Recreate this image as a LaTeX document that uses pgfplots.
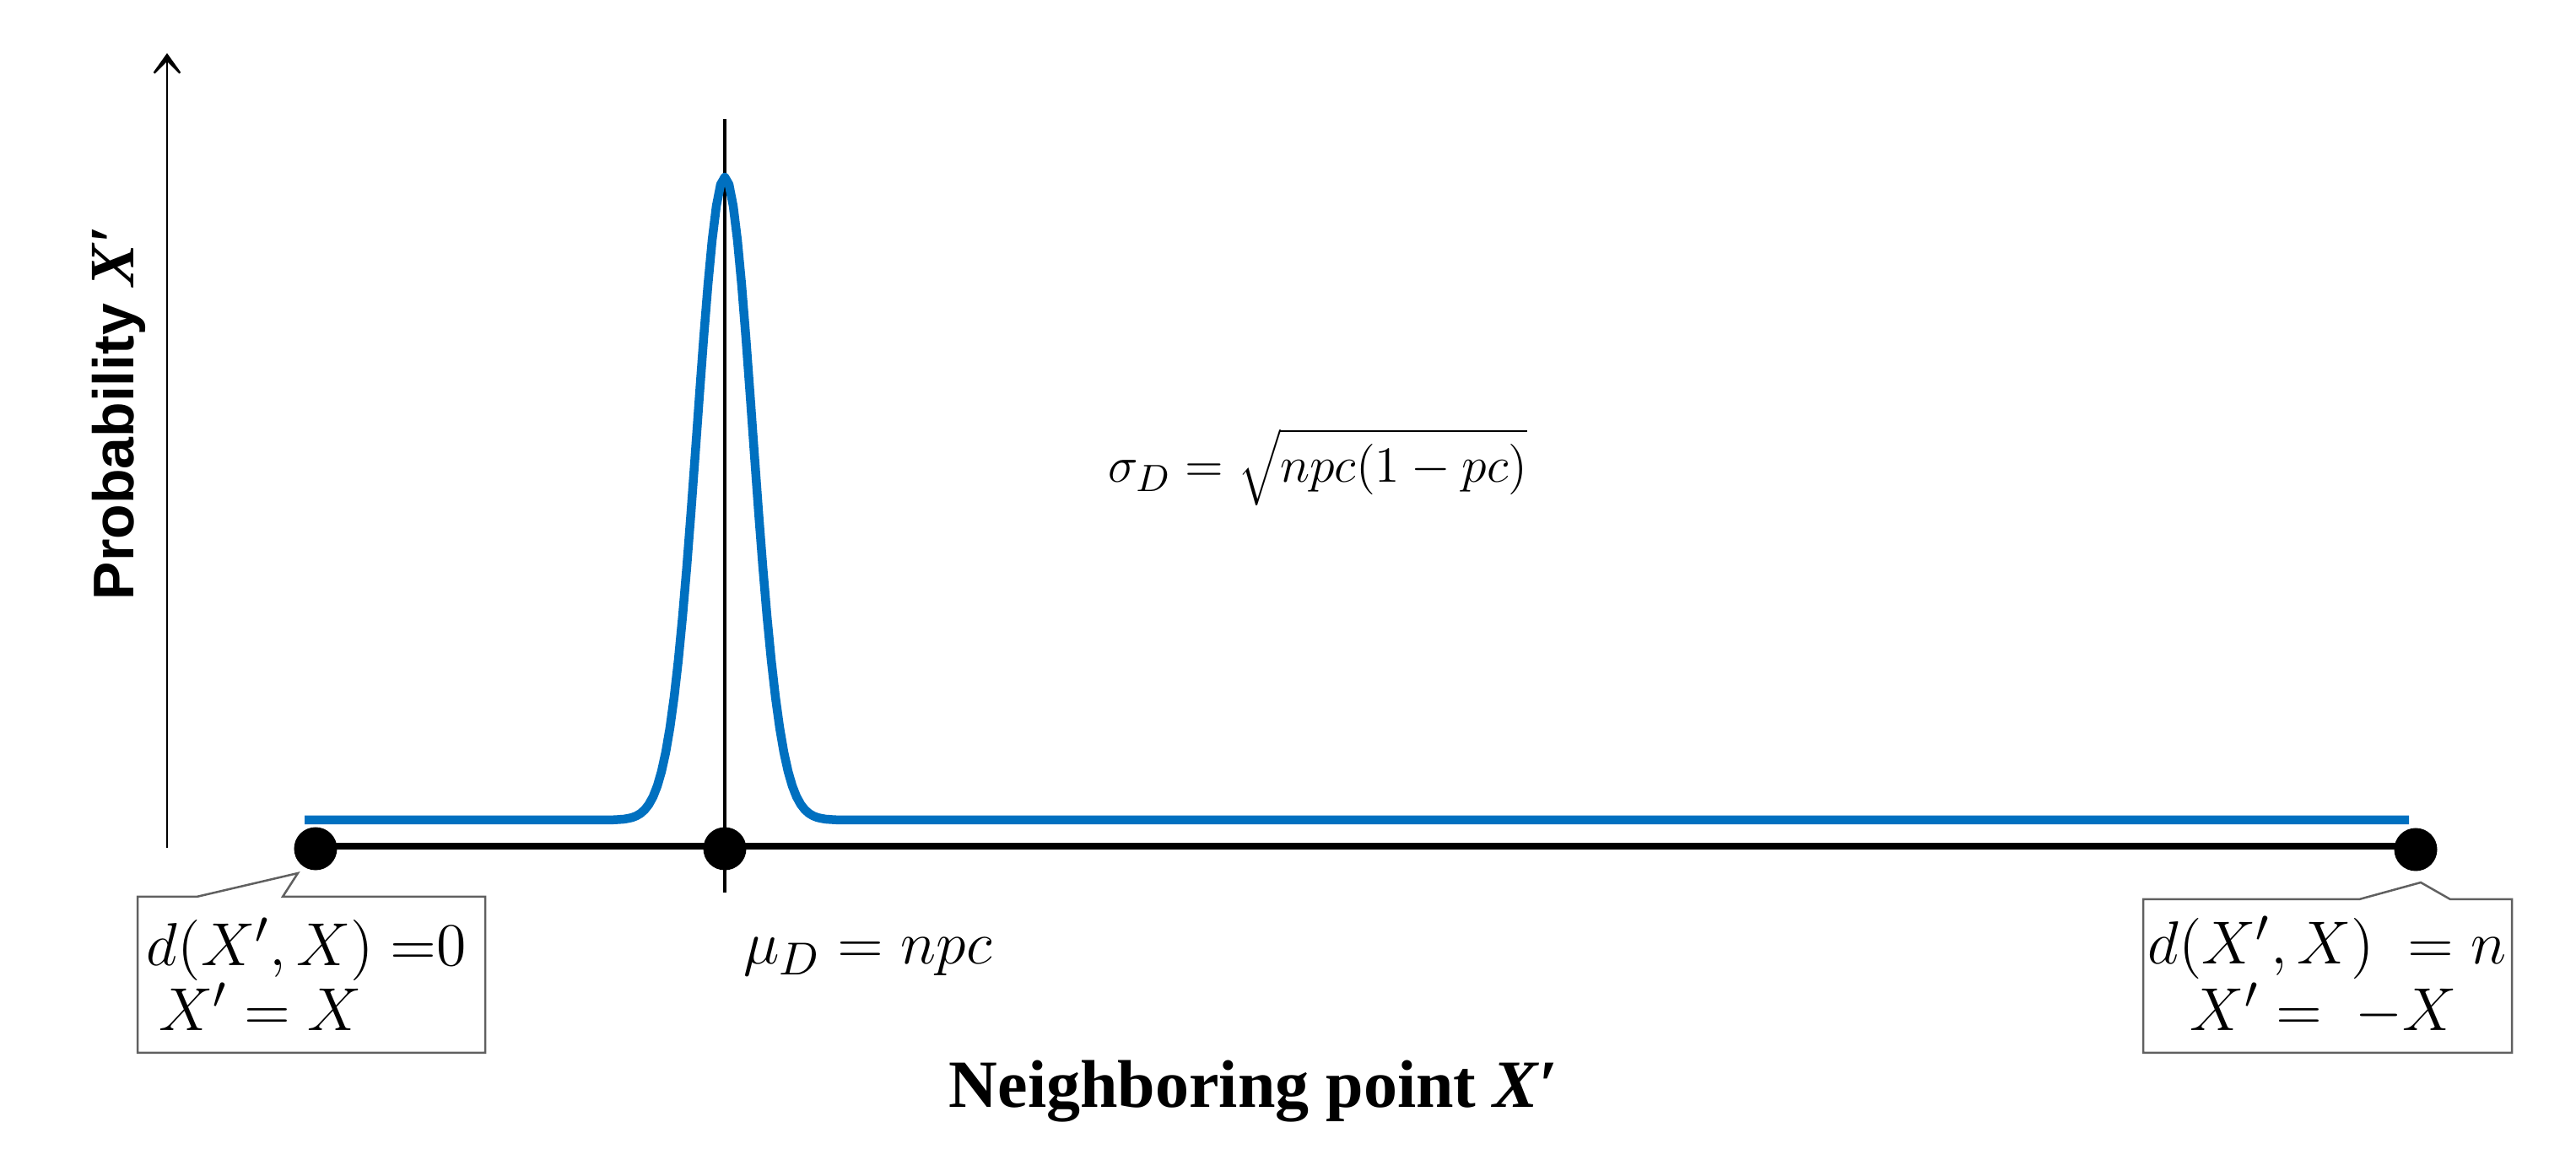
\documentclass[border=0pt]{standalone}
\usepackage{fontspec}
\setmainfont{Liberation Serif}
\newfontfamily\sansfam{Liberation Sans}
\usepackage{pgfplots}
\pgfplotsset{compat=1.18}
\usetikzlibrary{arrows.meta}
\definecolor{cblue}{HTML}{0070C0}
\definecolor{boxgray}{HTML}{606060}

\begin{document}
\begin{tikzpicture}
\useasboundingbox (0,0) rectangle (610.6pt,275pt);
\begin{axis}[at={(0,0)}, anchor=south west,
  width=610.6pt, height=275pt, scale only axis,
  xmin=0, xmax=3053, ymin=0, ymax=1375, y dir=reverse,
  axis lines=none, clip=false]

% y axis arrow
\draw[line width=0.55pt, -{Stealth[length=7pt,width=10pt,inset=5pt]}]
  (axis cs:198,1005) -- (axis cs:198,63);

% black horizontal line
\addplot[black, line width=1.6pt] coordinates {(374,1003) (2862,1003)};
% vertical line at the mean
\addplot[black, line width=0.8pt] coordinates {(859,141) (859,1058)};

% probability curve
\addplot[cblue, line width=2.1pt, line join=round] coordinates {
(361,972) (700,972) (719,972) (729,971.7) (739,971.0) (744,970.2) (749,969.1) (754,967.2)
(759,964.3) (764,959.9) (769,953.5) (774,944.4) (779,931.7) (784,914.4)
(789,891.7) (794,862.5) (799,826.1) (804,782.0) (809,730.2) (814,671.3)
(819,606.5) (824,537.8) (829,467.9) (834,400.1) (839,337.9) (844,284.8)
(849,244.2) (854,218.7) (859,210)
(864,218.7) (869,244.2) (874,284.8) (879,337.9) (884,400.1) (889,467.9)
(894,537.8) (899,606.5) (904,671.3) (909,730.2) (914,782.0) (919,826.1)
(924,862.5) (929,891.7) (934,914.4) (939,931.7) (944,944.4) (949,953.5)
(954,959.9) (959,964.3) (964,967.2) (969,969.1) (974,970.2) (979,971.0)
(989,971.7) (999,972) (2855,972)
};

% dots
\addplot[only marks, mark=*, mark size=4.9pt, black] coordinates {(374,1006) (859,1006) (2863,1007)};

% callout boxes
\draw[boxgray, line width=0.5pt, fill=white]
  (axis cs:163,1063) -- (axis cs:233,1063) -- (axis cs:353,1035) -- (axis cs:335,1063)
  -- (axis cs:575,1063) -- (axis cs:575,1248) -- (axis cs:163,1248) -- cycle;
\draw[boxgray, line width=0.5pt, fill=white]
  (axis cs:2540,1066) -- (axis cs:2796,1066) -- (axis cs:2869,1046) -- (axis cs:2904,1066)
  -- (axis cs:2977,1066) -- (axis cs:2977,1248) -- (axis cs:2540,1248) -- cycle;

% box texts
\node[anchor=base west, inner sep=0pt, font=\fontsize{15.5}{18}\selectfont] at (axis cs:173,1145) {$d(X',X)\ {=}0$};
\node[anchor=base west, inner sep=0pt, font=\fontsize{15.5}{18}\selectfont] at (axis cs:187,1222) {$X' = X$};
\node[anchor=base, inner sep=0pt, font=\fontsize{15.5}{18}\selectfont] at (axis cs:2758,1143) {$d(X',X)\ = n$};
\node[anchor=base, inner sep=0pt, font=\fontsize{15.5}{18}\selectfont] at (axis cs:2754,1222) {$X' = \ -X$};

% mean and sd formulas
\node[anchor=base west, inner sep=0pt, font=\fontsize{15.3}{18}\selectfont] at (axis cs:880,1143) {$\mu_D = npc$};
\node[anchor=base west, inner sep=0pt, font=\fontsize{12.8}{15}\selectfont] at (axis cs:1312,572) {$\sigma_D = \sqrt{npc(1-pc)}$};

% axis labels
\node[anchor=base, inner sep=0pt, font=\fontsize{16}{19}\selectfont\bfseries] at (axis cs:1486,1313) {Neighboring point \textit{X}′};
\node[anchor=base, rotate=90, inner sep=0pt] at (axis cs:158,490)
  {{\sansfam\bfseries\fontsize{13.6}{16}\selectfont Probability}\hspace{0.4em}{\fontsize{15}{17}\selectfont\bfseries\itshape X′}};

\end{axis}
\end{tikzpicture}
\end{document}
